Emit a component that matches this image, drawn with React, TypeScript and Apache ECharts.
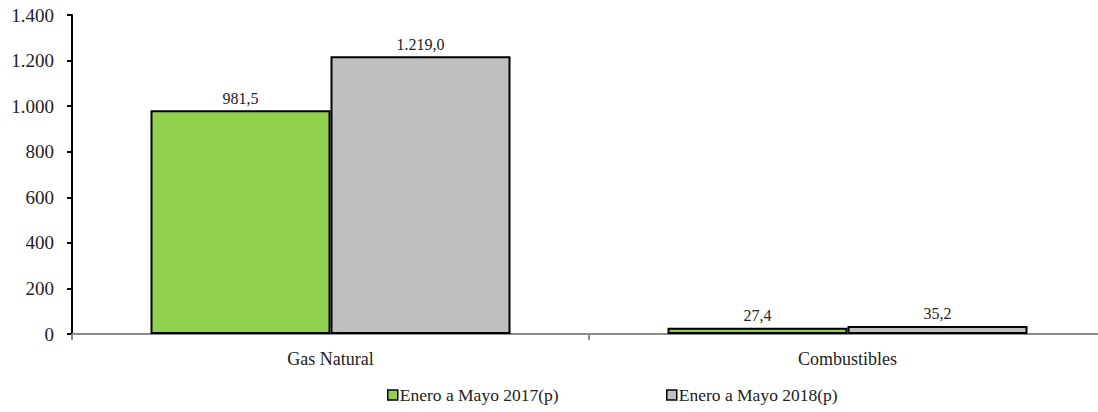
import React, { useEffect, useRef } from "react";
import * as echarts from "echarts";

const categories = ["Gas Natural", "Combustibles"];
const series2017 = [981.5, 27.4];
const series2018 = [1219.0, 35.2];
const seriesNames = ["Enero a Mayo 2017(p)", "Enero a Mayo 2018(p)"];

const FONT = "Liberation Serif, Times New Roman, serif";

function fmt(v: number, decimals: number): string {
  const s = v.toFixed(decimals);
  const [intPart, dec] = s.split(".");
  const withDots = intPart.replace(/\B(?=(\d{3})+(?!\d))/g, ".");
  return dec !== undefined ? withDots + "," + dec : withDots;
}

export default function App() {
  const ref = useRef<HTMLDivElement>(null);
  useEffect(() => {
    if (!ref.current) return;
    const chart = echarts.init(ref.current, undefined, { renderer: "svg" });
    const labelStyle = {
      show: true,
      position: "top" as const,
      distance: 4,
      fontFamily: FONT,
      fontSize: 16,
      color: "#222",
      formatter: (p: any) => fmt(p.value, 1),
    };
    const legendBase = {
      bottom: 3,
      itemWidth: 10,
      itemHeight: 10,
      itemGap: 0,
      icon: "rect",
      textStyle: { fontFamily: FONT, fontSize: 17.5, color: "#222", padding: [0, 0, 0, -3] },
    };
    chart.setOption({
      animation: false,
      backgroundColor: "#fff",
      grid: {
        left: 72,
        width: 1034,
        top: 15,
        bottom: 78,
        containLabel: false,
        outerBoundsMode: "none",
      },
      legend: [
        {
          ...legendBase,
          left: 382,
          data: [{ name: seriesNames[0], itemStyle: { borderColor: "#000", borderWidth: 1.5 } }],
        },
        {
          ...legendBase,
          left: 661,
          data: [{ name: seriesNames[1], itemStyle: { borderColor: "#000", borderWidth: 1.5 } }],
        },
      ],
      xAxis: {
        type: "category",
        data: categories,
        axisLine: { lineStyle: { color: "#8c8c8c", width: 2 } },
        axisTick: { show: true, length: 6, lineStyle: { color: "#8c8c8c", width: 2 } },
        axisLabel: { fontFamily: FONT, fontSize: 18, color: "#222", margin: 16 },
      },
      yAxis: {
        type: "value",
        min: 0,
        max: 1400,
        interval: 200,
        splitLine: { show: false },
        axisLine: { show: true, lineStyle: { color: "#000", width: 2 } },
        axisTick: { show: true, length: 5, lineStyle: { color: "#000", width: 2 } },
        axisLabel: {
          fontFamily: FONT,
          fontSize: 19,
          color: "#222",
          margin: 18,
          formatter: (v: number) => fmt(v, 0),
        },
      },
      series: [
        {
          name: seriesNames[0],
          type: "bar",
          data: series2017,
          barWidth: 180,
          barGap: "0%",
          itemStyle: { color: "#92D050", borderColor: "#000", borderWidth: 2 },
          label: labelStyle,
        },
        {
          name: seriesNames[1],
          type: "bar",
          data: series2018,
          barWidth: 180,
          barGap: "0%",
          itemStyle: { color: "#BFBFBF", borderColor: "#000", borderWidth: 2 },
          label: labelStyle,
        },
      ],
    });
    return () => chart.dispose();
  }, []);
  return (
    <div
      ref={ref}
      style={{ position: "absolute", left: 0, top: 0, width: 1098, height: 412, background: "#fff" }}
    />
  );
}
